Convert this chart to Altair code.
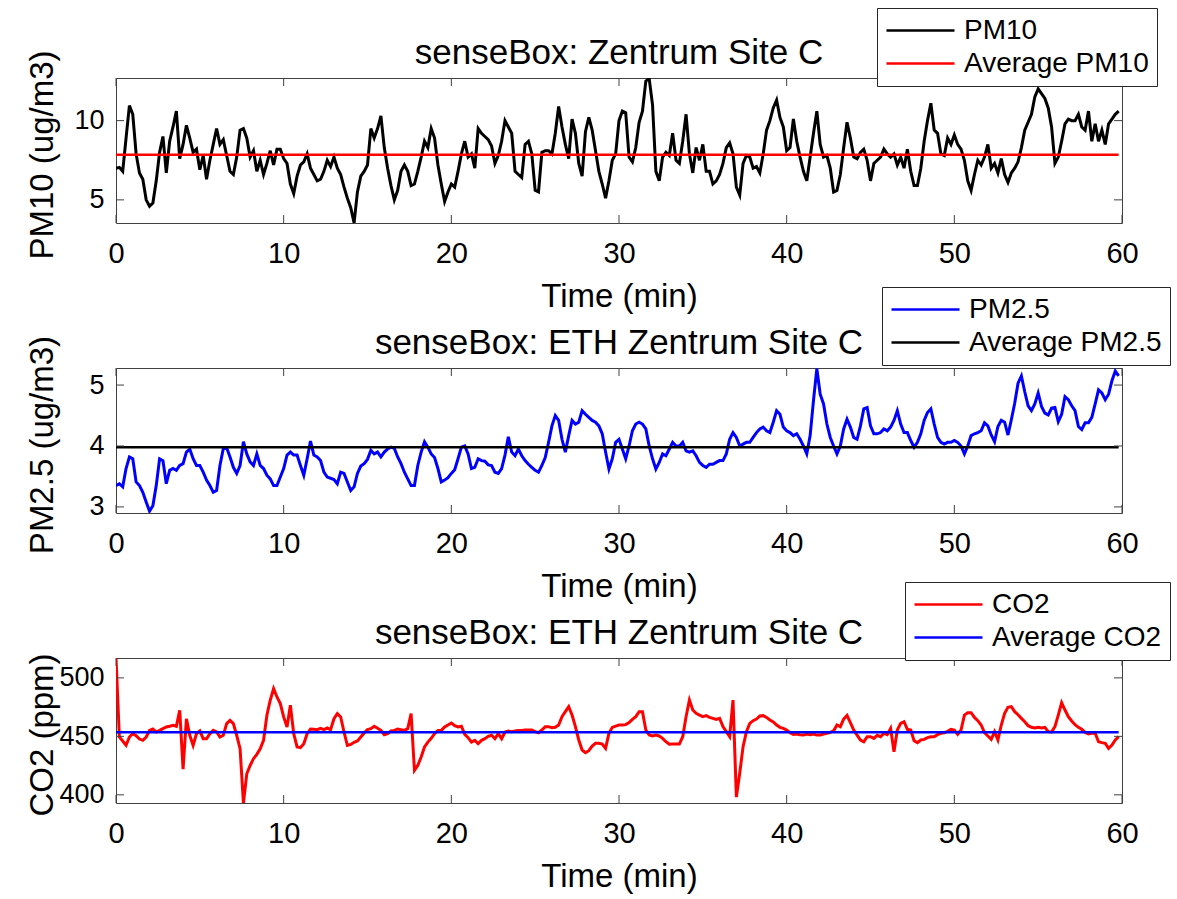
import altair as alt
import numpy as np
import pandas as pd

# Sampling interval of the logged series (minutes)
SAMPLE_STEP_MIN = 0.2

# PM10 concentration (ug/m3)
pm10 = [
    7.0, 7.05, 6.8, 8.9, 10.95, 10.4, 7.9, 6.7, 6.3, 5.0,
    4.6, 4.8, 6.2, 8.0, 9.0, 6.7, 8.7, 9.6, 10.6, 7.6,
    8.5, 9.7, 8.9, 8.0, 8.2, 6.9, 7.8, 6.3, 7.5, 8.5,
    9.5, 8.5, 8.8, 7.8, 6.8, 6.6, 7.7, 9.4, 9.5, 8.9,
    7.7, 8.1, 6.8, 7.5, 6.6, 7.3, 8.1, 7.2, 8.2, 8.2,
    7.6, 7.3, 6.0, 5.4, 6.5, 7.2, 7.4, 7.9, 7.0, 6.6,
    6.2, 6.3, 6.8, 7.5, 7.1, 7.7, 7.0, 6.6, 5.8, 5.1,
    4.5, 3.55, 5.5, 6.5, 6.8, 7.2, 9.5, 8.9, 9.5, 10.3,
    8.3, 7.0, 5.9, 5.0, 5.6, 6.8, 7.2, 6.8, 5.9, 6.0,
    6.8, 7.7, 8.7, 8.3, 9.5, 8.9, 7.2, 6.0, 4.9, 5.5,
    6.0, 5.8, 6.8, 7.9, 8.7, 7.7, 7.9, 7.0, 9.5, 9.2,
    9.0, 8.8, 8.4, 7.3, 7.8, 8.7, 10.0, 9.6, 9.2, 6.8,
    6.6, 6.4, 8.5, 8.7, 7.9, 5.6, 5.5, 8.0, 8.1, 8.1,
    7.9, 9.2, 10.9, 9.6, 8.5, 7.6, 10.1, 9.2, 7.3, 6.5,
    9.3, 10.2, 9.4, 8.1, 6.8, 6.0, 5.1, 6.2, 7.5, 7.9,
    10.0, 10.6, 10.5, 7.7, 7.4, 8.3, 9.9, 10.6, 12.5, 12.65,
    11.0, 6.8, 6.2, 7.7, 8.0, 7.8, 9.2, 7.5, 7.3, 8.7,
    10.4, 7.9, 6.7, 8.3, 7.5, 8.5, 6.8, 6.8, 6.0, 6.2,
    6.6, 7.3, 8.3, 8.6, 7.9, 5.8, 5.3, 7.3, 7.8, 7.7,
    7.0, 7.1, 6.7, 7.9, 9.4, 10.0, 10.8, 11.3, 10.2, 9.6,
    8.1, 8.3, 10.1, 8.7, 7.7, 6.8, 6.2, 7.7, 9.2, 10.6,
    8.5, 7.7, 7.8, 7.0, 5.5, 5.6, 6.6, 8.3, 9.9, 8.9,
    7.7, 7.6, 8.0, 8.2, 7.5, 6.2, 7.3, 7.5, 7.7, 8.2,
    7.9, 7.7, 7.9, 7.2, 7.7, 7.0, 8.2, 6.8, 5.9, 5.9,
    7.0, 8.7, 10.0, 11.1, 9.4, 9.2, 7.9, 7.8, 8.9, 8.5,
    9.1, 8.5, 8.2, 7.5, 6.2, 5.6, 6.6, 7.5, 7.2, 7.7,
    8.5, 7.0, 7.3, 6.7, 7.6, 6.6, 6.1, 6.7, 7.0, 7.4,
    8.3, 9.4, 9.9, 10.4, 11.5, 12.0, 11.7, 11.4, 10.8, 9.6,
    7.3, 7.7, 8.7, 9.8, 10.1, 10.0, 10.0, 10.4, 9.6, 9.4,
    10.6, 8.7, 9.8, 8.7, 9.4, 8.5, 9.8, 10.1, 10.4, 10.6,
]

# PM2.5 concentration (ug/m3)
pm25 = [
    3.35, 3.38, 3.33, 3.63, 3.82, 3.79, 3.41, 3.35, 3.24, 3.08,
    2.93, 3.02, 3.35, 3.79, 3.76, 3.38, 3.6, 3.63, 3.6, 3.68,
    3.71, 3.9, 3.95, 3.79, 3.68, 3.68, 3.57, 3.44, 3.35, 3.24,
    3.27, 3.68, 3.96, 3.97, 3.82, 3.65, 3.55, 3.68, 4.07, 3.87,
    3.74, 3.68, 3.87, 3.68, 3.63, 3.52, 3.46, 3.35, 3.35, 3.49,
    3.63, 3.85, 3.9, 3.85, 3.85, 3.68, 3.52, 3.79, 4.08, 3.85,
    3.82, 3.76, 3.57, 3.49, 3.47, 3.45, 3.38, 3.57, 3.55, 3.41,
    3.27, 3.33, 3.55, 3.67, 3.71, 3.78, 3.93, 3.87, 3.9, 3.82,
    3.9, 3.95, 3.98, 3.96, 3.82, 3.71, 3.57, 3.46, 3.35, 3.35,
    3.68, 3.9, 4.07, 3.98, 3.87, 3.81, 3.63, 3.41, 3.44, 3.48,
    3.55, 3.61, 3.79, 3.98, 4.0, 3.87, 3.63, 3.65, 3.79, 3.76,
    3.75, 3.69, 3.68, 3.57, 3.55, 3.63, 3.85, 4.15, 3.9, 3.84,
    3.95, 3.84, 3.76, 3.7, 3.65, 3.6, 3.57, 3.68, 3.81, 4.06,
    4.33, 4.5, 4.42, 4.11, 3.9, 4.17, 4.42, 4.36, 4.39, 4.58,
    4.52, 4.47, 4.42, 4.39, 4.33, 4.2, 3.9, 3.62, 3.79, 4.06,
    4.11, 3.95, 3.79, 4.0, 4.25, 4.36, 4.39, 4.36, 4.28, 4.0,
    3.79, 3.62, 3.73, 3.87, 3.84, 3.95, 4.06, 4.0, 4.0, 4.06,
    3.92, 3.9, 3.92, 3.84, 3.73, 3.68, 3.65, 3.7, 3.7, 3.73,
    3.76, 3.76, 3.87, 4.11, 4.22, 4.14, 4.0, 4.03, 4.06, 4.06,
    4.14, 4.22, 4.28, 4.31, 4.25, 4.22, 4.39, 4.58, 4.52, 4.31,
    4.25, 4.22, 4.17, 4.2, 4.11, 4.0, 3.87, 4.17, 4.75, 5.27,
    4.85, 4.69, 4.36, 4.14, 4.0, 3.87, 4.0, 4.28, 4.44, 4.31,
    4.14, 4.11, 4.33, 4.61, 4.63, 4.33, 4.2, 4.2, 4.22, 4.28,
    4.25, 4.31, 4.42, 4.58, 4.36, 4.22, 4.22, 4.09, 3.98, 4.06,
    4.2, 4.42, 4.55, 4.61, 4.36, 4.14, 4.06, 4.03, 4.06, 4.06,
    4.09, 4.06, 4.0, 3.87, 4.0, 4.17, 4.2, 4.22, 4.25, 4.38,
    4.33, 4.18, 4.07, 4.32, 4.42, 4.39, 4.18, 4.43, 4.7, 5.03,
    5.15, 4.89, 4.66, 4.58, 4.69, 4.87, 4.65, 4.54, 4.51, 4.62,
    4.63, 4.4, 4.52, 4.81, 4.76, 4.66, 4.58, 4.32, 4.27, 4.38,
    4.38, 4.47, 4.69, 4.92, 4.87, 4.76, 4.85, 5.07, 5.23, 5.15,
]

# CO2 concentration (ppm)
co2 = [
    517, 449.4, 446, 442.3, 449.4, 452.3, 450.6, 447.7, 446.6, 449.4,
    455.1, 456.3, 453.7, 455.1, 456.6, 458, 458.6, 459.4, 458.6, 472.3,
    422, 465, 450.9, 442.3, 452.3, 454.6, 448, 448, 452.3, 455.1,
    453.7, 449.4, 450.9, 460.9, 463.7, 460.9, 450.9, 439.4, 393, 418,
    425.1, 430.9, 434.6, 439.4, 446.6, 468, 480.9, 490.9, 483.7, 478,
    466.6, 458, 476.6, 452.3, 440.9, 440.3, 443.7, 452.3, 456.3, 456,
    455.7, 456.9, 455.7, 457.1, 455.7, 465.1, 469.4, 466.6, 453.7, 442.3,
    443.1, 444.9, 446, 449.4, 452.9, 455.7, 456.6, 458.6, 456.9, 455.1,
    451.4, 452.3, 454.6, 455.1, 456.3, 455.7, 455.1, 456.6, 469.4, 420.9,
    425.1, 432.3, 440.9, 445.1, 448.3, 452.3, 455.1, 455.1, 458, 459.7,
    461.4, 459.1, 458, 458.6, 451.7, 448.9, 445.1, 446.6, 443.7, 446.6,
    448, 450, 450.9, 448, 452.3, 448, 453.7, 454.6, 454, 454.6,
    455.1, 455.1, 455.4, 455.4, 455.4, 454, 453.1, 455.4, 458.3, 458.3,
    457.4, 457.7, 459.7, 466.8, 471.1, 475.4, 468.2, 458.3, 446.9, 438.3,
    436, 437.7, 441.7, 444, 444, 443.4, 439.7, 452.6, 457.7, 458.8,
    459.7, 459.7, 460, 461.7, 464.5, 466.8, 471.1, 471.1, 455.4, 451.1,
    450.3, 451.1, 450.3, 448.3, 445.4, 443.2, 443.4, 443.4, 443.4, 449.7,
    466.8, 481.1, 472.5, 469.7, 468.2, 466.8, 467.7, 466.2, 465.4, 464.5,
    465.4, 458.3, 454, 449.7, 481, 398, 418.4, 441.2, 454, 461.1,
    463.4, 464.8, 467.4, 467.7, 466.2, 464, 462.3, 459.7, 457.7, 456.8,
    455.4, 453.1, 451.7, 452, 451.4, 451.1, 452, 451.4, 452, 451.1,
    451.1, 452, 452.6, 453.4, 454.8, 459.7, 458.3, 464.8, 467.9, 461.7,
    455.4, 451.1, 446.9, 445.4, 449.7, 449.7, 448.3, 450.9, 449.7, 452.6,
    451.4, 456.8, 436.9, 455.4, 461.1, 462.5, 456, 455.4, 446.3, 444.6,
    446.9, 447.4, 448.9, 449.7, 449.7, 451.4, 452.6, 453.1, 454.3, 456,
    455.4, 451.7, 455.4, 468.2, 470.2, 470.2, 466.2, 463.4, 459.7, 453.1,
    450.3, 447.4, 454, 446.9, 459.7, 469.7, 474.8, 475.4, 471.1, 468.5,
    465.4, 462.5, 459.1, 457.7, 457.1, 457.7, 457.1, 457.7, 454, 453.7,
    458.3, 468.2, 478.8, 472.5, 466.8, 463.1, 460, 457.7, 456, 453.4,
    452, 452.6, 452.6, 445.4, 444.6, 444, 439.7, 442.6, 446.9, 449.7,
]

# Sample times (min) on the logging grid
time_min = np.round(np.arange(len(pm10)) * SAMPLE_STEP_MIN, 1)

# Mean levels over the hour
pm10_mean = 7.85
pm25_mean = 3.98
co2_mean = 453.5

# Axis ticks
x_ticks = [0, 10, 20, 30, 40, 50, 60]
pm10_ticks = [5, 10]
pm25_ticks = [3, 4, 5]
co2_ticks = [400, 450, 500]

W, H = 1006, 145
FONT = "Liberation Sans"
FRAME = "#404040"
TICK_LEN = 8


def panel(values, mean, name, avg_name, line_color, avg_color,
          y_domain, y_ticks, y_title, title, legend_x, legend_y):
    df = pd.DataFrame({"time": time_min, "value": values, "series": name})
    avg_df = pd.DataFrame({"time": [time_min[0], time_min[-1]],
                           "value": [mean, mean], "series": avg_name})

    x = alt.X("time:Q",
              scale=alt.Scale(domain=[0, 60], nice=False, zero=False),
              axis=alt.Axis(values=x_ticks, title="Time (min)",
                            labelOverlap=False, labelFlush=False,
                            labelBound=False))
    y = alt.Y("value:Q",
              scale=alt.Scale(domain=y_domain, nice=False, zero=False),
              axis=alt.Axis(values=y_ticks, title=y_title, format="d",
                            titleX=-64, titleY=H / 2 + 4,
                            titleBaseline="alphabetic", titleAngle=270,
                            labelOverlap=False, labelFlush=False,
                            labelBound=False))
    color = alt.Color(
        "series:N",
        scale=alt.Scale(domain=[name, avg_name], range=[line_color, avg_color]),
        legend=alt.Legend(
            title=None, orient="none", legendX=legend_x, legendY=legend_y,
            direction="vertical", fillColor="white", strokeColor="#262626",
            padding=8, symbolType="stroke", symbolSize=4624,
            symbolStrokeWidth=2.6, labelFont=FONT, labelFontSize=28,
            labelColor="black", labelOffset=8, rowPadding=4, labelLimit=600,
            clipHeight=29, cornerRadius=0,
        ),
    )

    data_line = alt.Chart(df).mark_line(strokeWidth=3, clip=True).encode(
        x=x, y=y, color=color)
    avg_line = alt.Chart(avg_df).mark_line(strokeWidth=2.6, clip=True).encode(
        x="time:Q", y="value:Q", color="series:N")

    # inward tick marks on all four sides of the box
    xt = pd.DataFrame({"time": x_ticks})
    yt = pd.DataFrame({"value": y_ticks})
    tick = dict(color=FRAME, strokeWidth=1)
    bottom = alt.Chart(xt).mark_rule(**tick).encode(
        x="time:Q", y=alt.value(H), y2=alt.value(H - TICK_LEN))
    top = alt.Chart(xt).mark_rule(**tick).encode(
        x="time:Q", y=alt.value(0), y2=alt.value(TICK_LEN))
    left = alt.Chart(yt).mark_rule(**tick).encode(
        y="value:Q", x=alt.value(0), x2=alt.value(TICK_LEN))
    right = alt.Chart(yt).mark_rule(**tick).encode(
        y="value:Q", x=alt.value(W), x2=alt.value(W - TICK_LEN))

    # panel heading, centred just above the box
    heading = alt.Chart(pd.DataFrame({"label": [title]})).mark_text(
        font=FONT, fontSize=35, color="black", align="center",
        baseline="alphabetic",
    ).encode(text="label:N", x=alt.value(W / 2), y=alt.value(-14))

    return alt.layer(data_line, avg_line, bottom, top, left, right,
                     heading).properties(width=W, height=H)


p1 = panel(pm10, pm10_mean, "PM10", "Average PM10", "#000000", "#ff0000",
           [3.54, 12.69], pm10_ticks, "PM10 (ug/m3)",
           "senseBox: Zentrum Site C", 761, -70)
p2 = panel(pm25, pm25_mean, "PM2.5", "Average PM2.5", "#0000ff", "#000000",
           [2.9, 5.28], pm25_ticks, "PM2.5 (ug/m3)",
           "senseBox: ETH Zentrum Site C", 766, -81)
p3 = panel(co2, co2_mean, "CO2", "Average CO2", "#ff0000", "#0000ff",
           [393, 517], co2_ticks, "CO2 (ppm)",
           "senseBox: ETH Zentrum Site C", 789, -76)

chart = (
    alt.vconcat(p1, p2, p3, spacing=145, bounds="flush")
    .resolve_scale(color="independent")
    .properties(padding={"left": 25, "top": 7, "right": 0, "bottom": 0},
                background="white")
    .configure_view(stroke=FRAME, strokeWidth=1)
    .configure_axis(grid=False, domain=False, ticks=False,
                    labelFont=FONT, titleFont=FONT,
                    labelColor="black", titleColor="black",
                    titleFontWeight="normal")
    .configure_axisX(labelFontSize=29, titleFontSize=33,
                     labelPadding=16, titlePadding=12)
    .configure_axisY(labelFontSize=27, titleFontSize=33, labelPadding=12)
)

chart.save("out.html", embed_options={"renderer": "svg", "actions": False})
